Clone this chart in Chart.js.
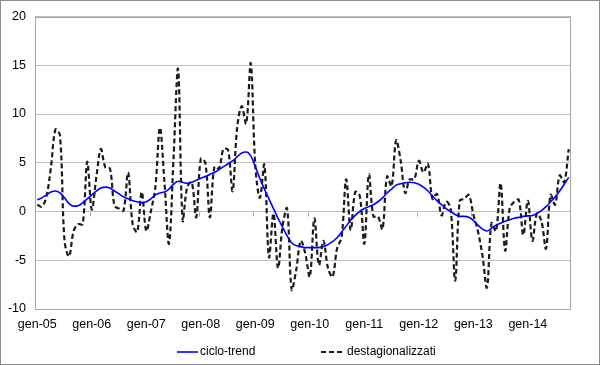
<!DOCTYPE html>
<html>
<head>
<meta charset="utf-8">
<script src="https://cdn.jsdelivr.net/npm/chart.js@4.4.0/dist/chart.umd.min.js"></script>
<style>
html,body{margin:0;padding:0;background:#fff;}
#wrap{width:600px;height:365px;position:relative;}
</style>
</head>
<body>
<div id="wrap"><canvas id="c" width="600" height="365"></canvas></div>
<script>
// Monthly categories Jan 2005 .. Oct 2014
const monthNames = ["gen","feb","mar","apr","mag","giu","lug","ago","set","ott","nov","dic"];
const years = ["05","06","07","08","09","10","11","12","13","14"];
const categories = [];
years.forEach(function(y, yi){
  monthNames.forEach(function(m, mi){
    if (yi < 9 || mi < 10) categories.push(m + "-" + y);
  });
});
const tickLabels = ["gen-05","gen-06","gen-07","gen-08","gen-09","gen-10","gen-11","gen-12","gen-13","gen-14"];

const destagionalizzati = [
  0.7, 0.5, 1.5, 4.5, 8.4, 7.8, -3.0, -4.6, -2.0, -1.3, -1.3, 5.1,
  0.2, 3.5, 6.4, 4.5, 4.4, 0.6, 0.3, 0.1, 4.0, -1.3, -2.1, 2.0,
  -2.0, 0.0, 2.5, 8.6, 3.0, -3.3, 5.5, 14.6, -0.9, 2.5, 3.0, -0.6,
  5.4, 5.0, -0.6, 4.6, 4.4, 6.4, 6.3, 2.1, 8.6, 10.8, 9.0, 15.2,
  4.7, 1.4, 4.8, -4.7, -0.2, -5.8, -1.5, 0.3, -8.0, -6.0, -3.0, -4.3,
  -6.7, -0.7, -5.5, -3.0, -5.8, -6.7, -3.8, -2.6, 3.3, -1.9, 2.0, 1.6,
  -3.3, 3.8, -0.5, -0.5, -1.8, 3.6, 2.6, 7.3, 5.2, 1.9, 3.3, 3.3,
  5.2, 4.0, 4.9, 1.3, 1.8, -0.4, 1.0, 0.3, -7.1, 1.1, 1.3, 1.7,
  -0.3, -2.0, -4.5, -7.8, -1.2, -2.0, 2.9, -4.0, 0.3, 1.0, 1.2, -2.4,
  1.1, -3.0, -0.2, -1.0, -3.8, 1.7, 0.7, 3.7, 3.0, 6.4
];

const cicloTrend = [
  1.2, 1.4, 1.7, 2.0, 2.1, 1.9, 1.4, 0.8, 0.55, 0.6, 0.9, 1.3,
  1.7, 2.1, 2.4, 2.5, 2.4, 2.1, 1.8, 1.5, 1.3, 1.1, 1.0, 0.9,
  1.0, 1.3, 1.7, 1.9, 2.0, 2.3, 2.8, 3.1, 3.0, 2.9, 3.0, 3.2,
  3.4, 3.6, 3.8, 4.0, 4.3, 4.6, 4.9, 5.2, 5.6, 6.0, 6.1, 5.7,
  4.6, 3.4, 2.3, 1.3, 0.3, -0.7, -1.6, -2.5, -3.2, -3.5, -3.6, -3.7,
  -3.7, -3.7, -3.7, -3.6, -3.4, -3.1, -2.7, -2.1, -1.5, -0.9, -0.4, 0.0,
  0.3, 0.5, 0.7, 1.0, 1.4, 1.9, 2.3, 2.7, 2.85, 2.95, 3.0, 2.95,
  2.8, 2.5, 2.1, 1.6, 1.1, 0.7, 0.3, 0.0, -0.3, -0.5, -0.5, -0.6,
  -0.9, -1.4, -1.8, -2.0, -1.7, -1.4, -1.2, -1.0, -0.85, -0.7, -0.6, -0.5,
  -0.45, -0.4, -0.2, 0.1, 0.5, 1.0, 1.5, 2.1, 2.8, 3.5
];

const yTicks = [-10, -5, 0, 5, 10, 15, 20];

const FONT = "'Liberation Sans', Arial, sans-serif";

const framePlugin = {
  id: 'frame',
  beforeDraw(chart) {
    const ctx = chart.ctx;
    ctx.save();
    ctx.fillStyle = '#ffffff';
    ctx.fillRect(0, 0, chart.width, chart.height);
    ctx.restore();
  },
  beforeDatasetsDraw(chart) {
    const ctx = chart.ctx;
    const a = chart.chartArea;
    const xs = chart.scales.x, ys = chart.scales.y;
    ctx.save();
    ctx.strokeStyle = '#a6a6a6';
    ctx.lineWidth = 1;
    ctx.strokeRect(Math.round(a.left) + 0.5, Math.round(a.top) + 0.5, Math.round(a.right - a.left) - 1, Math.round(a.bottom - a.top) - 1);
    // category tick marks on the zero line, between categories every 12
    const y0 = Math.round(ys.getPixelForValue(0)) + 0.5;
    const half = (xs.getPixelForValue(1) - xs.getPixelForValue(0)) / 2;
    ctx.strokeStyle = '#a6a6a6';
    ctx.beginPath();
    for (let k = 12; k < categories.length; k += 12) {
      const px = Math.round(xs.getPixelForValue(k) - half) + 0.5;
      ctx.moveTo(px, y0);
      ctx.lineTo(px, y0 + 4);
    }
    ctx.stroke();
    ctx.restore();
  },
  afterDraw(chart) {
    const ctx = chart.ctx;
    ctx.save();
    // legend (bottom, centred row)
    const items = [
      { ds: chart.data.datasets[0], x0: 177, x1: 198, tx: 200 },
      { ds: chart.data.datasets[1], x0: 321, x1: 344, tx: 347 }
    ];
    const ly = 352;
    ctx.font = "12px " + FONT;
    ctx.textBaseline = 'middle';
    ctx.textAlign = 'left';
    items.forEach(function(it){
      ctx.save();
      ctx.strokeStyle = it.ds.borderColor;
      ctx.lineWidth = it.ds.borderWidth;
      ctx.setLineDash(it.ds.borderDash || []);
      ctx.beginPath();
      ctx.moveTo(it.x0, ly);
      ctx.lineTo(it.x1, ly);
      ctx.stroke();
      ctx.restore();
      ctx.fillStyle = '#000';
      ctx.fillText(it.ds.label, it.tx, ly);
    });
    // outer frame
    ctx.strokeStyle = '#8c8c8c';
    ctx.lineWidth = 1;
    ctx.strokeRect(0.5, 0.5, chart.width - 1, chart.height - 1);
    ctx.restore();
  }
};

new Chart(document.getElementById('c'), {
  type: 'line',
  data: {
    labels: categories,
    datasets: [
      {
        label: 'ciclo-trend',
        data: cicloTrend,
        borderColor: '#0000ff',
        backgroundColor: '#0000ff',
        borderWidth: 1.6,
        pointRadius: 0,
        tension: 0.4,
        cubicInterpolationMode: 'monotone',
        fill: false
      },
      {
        label: 'destagionalizzati',
        data: destagionalizzati,
        borderColor: '#1a1a1a',
        backgroundColor: '#1a1a1a',
        borderWidth: 2.2,
        borderDash: [5, 3],
        pointRadius: 0,
        tension: 0.35,
        fill: false
      }
    ]
  },
  options: {
    responsive: false,
    animation: false,
    devicePixelRatio: 1,
    layout: { padding: { left: 0, right: 29, top: 15, bottom: 0 } },
    plugins: {
      legend: { display: false },
      tooltip: { enabled: false }
    },
    scales: {
      x: {
        type: 'category',
        offset: true,
        grid: { display: false, drawTicks: false },
        border: { display: false },
        ticks: {
          autoSkip: false,
          maxRotation: 0,
          minRotation: 0,
          padding: 8,
          color: '#000',
          font: { family: FONT, size: 12.5 },
          callback: function(v, i) {
            const lab = categories[i];
            return tickLabels.indexOf(lab) >= 0 ? lab : null;
          }
        },
        afterFit: function(s) { s.height = 56; }
      },
      y: {
        min: -10,
        max: 20,
        afterBuildTicks: function(s) { s.ticks = yTicks.map(function(v){ return {value: v}; }); },
        grid: { color: '#bfbfbf', lineWidth: 1, drawTicks: false },
        border: { display: false },
        ticks: {
          padding: 9,
          color: '#000',
          font: { family: FONT, size: 12.5 }
        },
        afterFit: function(s) { s.width = 35; }
      }
    }
  },
  plugins: [framePlugin]
});
</script>
</body>
</html>
